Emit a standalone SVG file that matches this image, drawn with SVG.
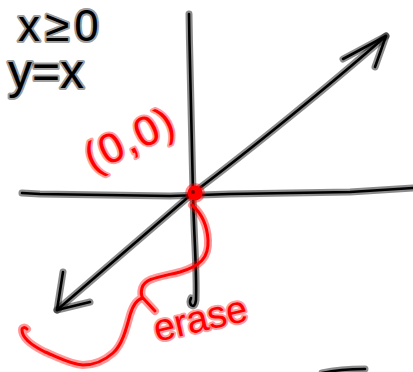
<svg xmlns="http://www.w3.org/2000/svg" width="413" height="372" viewBox="0 0 413 372">
<style>
.halo{fill:none;stroke:#000;stroke-opacity:0.45;stroke-width:7;stroke-linecap:round;stroke-linejoin:round}
.ink{fill:none;stroke:#000;stroke-width:2.6;stroke-linecap:round;stroke-linejoin:round}
.rhalo{fill:none;stroke:#ff0000;stroke-opacity:0.4;stroke-width:8;stroke-linecap:round;stroke-linejoin:round}
.rink{fill:none;stroke:#ff0000;stroke-width:3;stroke-linecap:round;stroke-linejoin:round}
.bt{font-family:"Liberation Sans",Arial,sans-serif;fill:#000;stroke:#000;stroke-opacity:0.4;stroke-width:4;paint-order:stroke;stroke-linejoin:round}
.rt{font-family:"Liberation Sans",Arial,sans-serif;fill:#ff0000;stroke:#ff0000;stroke-opacity:0.4;stroke-width:4;paint-order:stroke;stroke-linejoin:round}
</style>
<rect width="413" height="372" fill="#fff"/>
<defs>
<path id="vaxis" d="M189,14 C190,80 192,150 193,193 C194,240 197,270 196,300 Q195,308 191,305 Q189,302 191,298"/>
<path id="haxis" d="M22,193 L40,194 L170,196 L230,194 L350,192 L413,188"/>
<path id="diag" d="M57,310 L193,193 C250,150 330,85 386,36"/>
<path id="headU" d="M343,59 L386,36 L375,67"/>
<path id="headL" d="M63,272 L57,310 L90,302"/>
<path id="swirl" d="M192,205 C200,212 207,222 208,240 C209,258 200,266 180,272 C160,277 145,278 142,288 C140,295 143,298 143,298 L155,311 M143,298 C137,299 133,305 130,315 C126,330 122,345 113,353 C104,361 95,365 83,365 C70,364 60,358 45,352 C33,346 22,338 22,330 C22,327 25,327 27,329"/>
<path id="bottom" d="M322,373 Q340,369 365,369"/>
</defs>
<g id="axes">
<use href="#vaxis" class="halo"/><use href="#vaxis" class="ink"/>
<use href="#haxis" class="halo"/><use href="#haxis" class="ink"/>
</g>
<g id="line-y-equals-x">
<use href="#diag" class="halo"/><use href="#diag" class="ink"/>
<use href="#headU" class="halo"/><use href="#headU" class="ink"/>
<use href="#headL" class="halo"/><use href="#headL" class="ink"/>
</g>
<g id="bottom-stroke">
<use href="#bottom" class="halo"/><use href="#bottom" class="ink" stroke-width="4"/>
</g>
<g id="labels">
<text class="bt" x="18" y="41" font-size="44" letter-spacing="5">x≥0</text>
<text class="bt" x="8" y="88" font-size="48">y=x</text>
</g>
<g id="erase-mark">
<use href="#swirl" class="rhalo"/><use href="#swirl" class="rink"/>
<text class="rt" x="203" y="331" font-size="38" text-anchor="middle" transform="rotate(-13 203 331)">erase</text>
</g>
<g id="origin">
<text class="rt" x="136" y="152" font-size="42" text-anchor="middle" letter-spacing="2" transform="rotate(-26 136 152)">(0,0)</text>
<circle cx="195" cy="193" r="10" fill="#ff0000" fill-opacity="0.45"/>
<circle cx="195" cy="193" r="7.5" fill="#ff0000"/>
<circle cx="193" cy="192" r="2" fill="#800000"/>
</g>
</svg>
